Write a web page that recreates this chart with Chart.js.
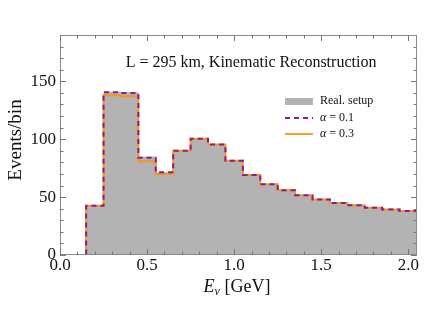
<!DOCTYPE html>
<html>
<head>
<meta charset="utf-8">
<script src="https://cdn.jsdelivr.net/npm/chart.js@4"></script>
<style>
  html, body { margin: 0; padding: 0; background: #fff; }
  #wrap { width: 430px; height: 332px; }
</style>
</head>
<body>
<div id="wrap"><canvas id="myChart" width="430" height="332"></canvas></div>
<script>
// left bin edges in GeV (bin width 0.1), last edge closes the histogram
const binEdges = [0.05, 0.15, 0.25, 0.35, 0.45, 0.55, 0.65, 0.75, 0.85, 0.95, 1.05,
                  1.15, 1.25, 1.35, 1.45, 1.55, 1.65, 1.75, 1.85, 1.95];
const lastEdge = 2.05;

// events per bin
const realSetup = [0, 42.5, 141, 140.5, 85, 71.5, 90, 100.5, 95.5, 81.5, 69,
                   61.2, 56, 51.7, 48, 45, 43, 40.8, 39.4, 38];
const alpha01   = [0, 42.5, 140.5, 140, 84, 71.5, 90, 100.3, 95.4, 81.3, 69,
                   61.2, 56, 51.7, 48, 45, 43, 40.8, 39.4, 38];
const alpha03   = [0, 42.5, 138, 137, 81, 70, 90, 100.3, 95.4, 81.3, 69,
                   61.2, 56, 51.7, 48, 45, 43, 40.8, 39.4, 38];

const seriesLabels = ['Real. setup', 'α = 0.1', 'α = 0.3'];
const xTickValues = [0.0, 0.5, 1.0, 1.5, 2.0];
const yTickValues = [0, 50, 100, 150];

const serif = '"Liberation Serif", "DejaVu Serif", serif';

// step points: each bin starts at its left edge, closing point at last edge
function stepPoints(vals) {
    const pts = binEdges.map((e, i) => ({x: e, y: vals[i]}));
    pts.push({x: lastEdge, y: vals[vals.length - 1]});
    return pts;
}

// frame, inward ticks, title, axis titles, legend
const frameDecor = {
    id: 'frameDecor',
    afterDatasetsDraw(chart) {
        const {ctx, chartArea: {top, bottom, left, right}, scales: {x, y}} = chart;
        ctx.save();
        ctx.strokeStyle = '#8a8a8a';
        ctx.lineWidth = 1;
        ctx.strokeRect(left + 0.5, top + 0.5, right - left - 1, bottom - top - 1);

        ctx.strokeStyle = '#777';
        ctx.beginPath();
        // x ticks every 0.1, major every 0.5
        for (let k = 0; k <= 20; k++) {
            const v = k / 10;
            const px = Math.round(x.getPixelForValue(v)) + 0.5;
            const len = (k % 5 === 0) ? 6 : 3.5;
            ctx.moveTo(px, bottom); ctx.lineTo(px, bottom - len);
            ctx.moveTo(px, top); ctx.lineTo(px, top + len);
        }
        // y ticks every 10, major every 50
        for (let v = 0; v <= 180; v += 10) {
            const py = Math.round(y.getPixelForValue(v)) + 0.5;
            const len = (v % 50 === 0) ? 6 : 3.5;
            ctx.moveTo(left, py); ctx.lineTo(left + len, py);
            ctx.moveTo(right, py); ctx.lineTo(right - len, py);
        }
        ctx.stroke();

        // plot label
        ctx.fillStyle = '#111';
        ctx.font = `16px ${serif}`;
        ctx.textAlign = 'center';
        ctx.textBaseline = 'middle';
        ctx.fillText('L = 295 km, Kinematic Reconstruction', 251, 63);

        // y axis title
        ctx.save();
        ctx.translate(16, 140);
        ctx.rotate(-Math.PI / 2);
        ctx.font = `19px ${serif}`;
        ctx.fillText('Events/bin', 0, 0);
        ctx.restore();

        // x axis title  E_nu [GeV]
        ctx.textAlign = 'left';
        ctx.textBaseline = 'alphabetic';
        const partE = 'E', partNu = 'ν', partRest = ' [GeV]';
        ctx.font = `italic 18px ${serif}`;
        const wE = ctx.measureText(partE).width;
        ctx.font = `italic 12px ${serif}`;
        const wNu = ctx.measureText(partNu).width;
        ctx.font = `18px ${serif}`;
        const wR = ctx.measureText(partRest).width;
        let sx = 237 - (wE + wNu + wR) / 2;
        const base = 292;
        ctx.font = `italic 18px ${serif}`;
        ctx.fillText(partE, sx, base); sx += wE;
        ctx.font = `italic 12px ${serif}`;
        ctx.fillText(partNu, sx, base + 3); sx += wNu;
        ctx.font = `18px ${serif}`;
        ctx.fillText(partRest, sx, base);

        // legend
        const lx = 285, lw = 28, tx = 320;
        const rows = [101, 118, 134];
        const ds = chart.data.datasets;
        ctx.fillStyle = ds[0].backgroundColor;
        ctx.fillRect(lx, rows[0] - 3, lw, 7);
        ctx.lineWidth = 1.8;
        ctx.strokeStyle = ds[1].borderColor;
        ctx.setLineDash(ds[1].borderDash);
        ctx.beginPath(); ctx.moveTo(lx, rows[1]); ctx.lineTo(lx + lw, rows[1]); ctx.stroke();
        ctx.setLineDash([]);
        ctx.strokeStyle = ds[2].borderColor;
        ctx.beginPath(); ctx.moveTo(lx, rows[2]); ctx.lineTo(lx + lw, rows[2]); ctx.stroke();

        ctx.fillStyle = '#111';
        ctx.textBaseline = 'middle';
        ctx.font = `12px ${serif}`;
        ctx.fillText(seriesLabels[0], tx, rows[0]);
        [1, 2].forEach(i => {
            const lab = seriesLabels[i];
            ctx.font = `italic 12px ${serif}`;
            ctx.fillText(lab[0], tx, rows[i]);
            const w = ctx.measureText(lab[0]).width;
            ctx.font = `12px ${serif}`;
            ctx.fillText(lab.slice(1), tx + w, rows[i]);
        });
        ctx.restore();
    }
};

const data = {
    datasets: [
        {
            label: seriesLabels[0],
            data: stepPoints(realSetup),
            stepped: 'before',
            fill: 'origin',
            backgroundColor: '#b3b3b3',
            borderWidth: 0,
            borderColor: 'rgba(0,0,0,0)',
            pointRadius: 0,
            order: 3
        },
        {
            label: seriesLabels[1],
            data: stepPoints(alpha01),
            stepped: 'before',
            fill: false,
            borderColor: '#8c1c8c',
            borderWidth: 2,
            borderDash: [5, 4],
            pointRadius: 0,
            order: 1
        },
        {
            label: seriesLabels[2],
            data: stepPoints(alpha03),
            stepped: 'before',
            fill: false,
            borderColor: '#f7941d',
            borderWidth: 2,
            pointRadius: 0,
            order: 2
        }
    ]
};

const config = {
    type: 'line',
    data: data,
    options: {
        responsive: false,
        animation: false,
        layout: { padding: { left: 0, top: 35, right: 13, bottom: 0 } },
        plugins: {
            legend: { display: false },
            tooltip: { enabled: false },
            title: { display: false }
        },
        scales: {
            x: {
                type: 'linear',
                min: 0,
                max: 2.05,
                afterFit: s => { s.height = 77; },
                afterBuildTicks: s => { s.ticks = xTickValues.map(v => ({value: v})); },
                grid: { display: false, drawTicks: false },
                border: { display: false },
                ticks: {
                    padding: 0,
                    maxRotation: 0,
                    color: '#111',
                    font: { family: serif, size: 17 },
                    callback: v => v.toFixed(1)
                }
            },
            y: {
                type: 'linear',
                min: 0,
                max: 190,
                afterFit: s => { s.width = 60; },
                afterBuildTicks: s => { s.ticks = yTickValues.map(v => ({value: v})); },
                grid: { display: false, drawTicks: false },
                border: { display: false },
                ticks: {
                    padding: 4,
                    color: '#111',
                    font: { family: serif, size: 17 }
                }
            }
        }
    },
    plugins: [frameDecor]
};

const myChart = new Chart(document.getElementById('myChart'), config);
</script>
</body>
</html>
